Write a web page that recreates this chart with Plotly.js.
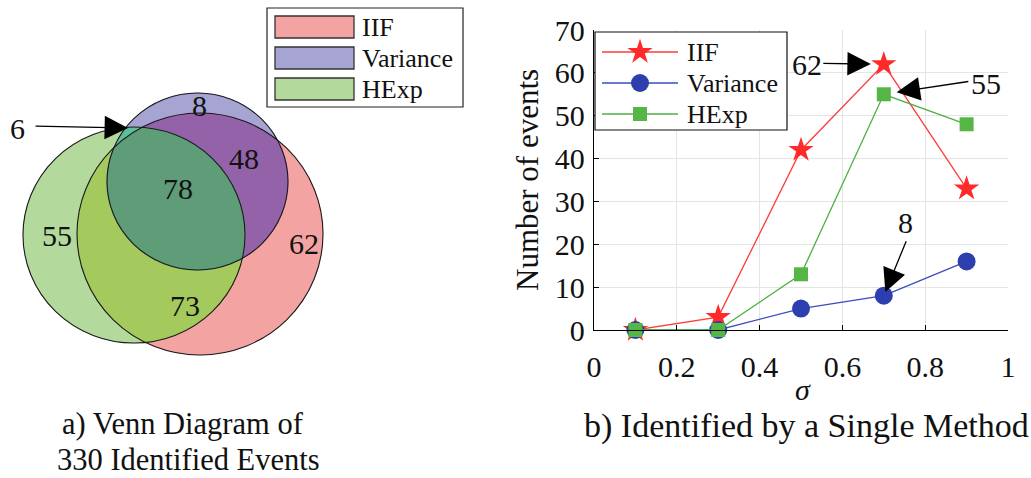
<!DOCTYPE html>
<html>
<head>
<meta charset="utf-8">
<script src="https://cdn.plot.ly/plotly-3.0.1.min.js"></script>
<style>html,body{margin:0;padding:0;background:#fff}#chart{width:1031px;height:478px}</style>
</head>
<body>
<div id="chart"></div>
<script>
// ---- Data: panel b ----
const sigma = [0.1, 0.3, 0.5, 0.7, 0.9];
const iifCounts = [0, 3, 42, 62, 33];
const varianceCounts = [0, 0, 5, 8, 16];
const hexpCounts = [0, 0, 13, 55, 48];
const seriesNames = ['IIF', 'Variance', 'HExp'];
const xTickVals = [0, 0.2, 0.4, 0.6, 0.8, 1];
const yTickVals = [0, 10, 20, 30, 40, 50, 60, 70];

// ---- Data: panel a (Venn region counts) ----
const vennRegions = ['IIF only', 'Variance only', 'HExp only', 'IIF & Variance', 'IIF & HExp', 'Variance & HExp', 'All three'];
const vennCounts = [62, 8, 55, 48, 73, 6, 78];

// ---- Geometry / styling (pixel space) ----
const FONT = "'Liberation Serif', 'Times New Roman', serif";
const ell = {
  IIF:      {cx: 200, cy: 234, rx: 123, ry: 121},
  Variance: {cx: 197.5, cy: 181.5, rx: 90.5, ry: 88.5},
  HExp:     {cx: 134, cy: 235, rx: 111, ry: 108}
};
const vennLabelPos = [[304,243],[199,105],[57,235],[244,158],[185,305],[17,128],[178,188]];
const colSingle = {IIF: '#f4a3a3', Variance: '#a5a4d2', HExp: '#b3d99c'};
const colPair = {IH: '#a4c95d', IV: '#9462a8', VH: '#5bbf9c', all: '#5f9c78'};
const seriesColor = ['#ff2a2a', '#2d3fae', '#55b545'];
const lineColor = ['#ff3b3b', '#3a4cc0', '#4cb040'];
const markerSymbol = ['star', 'circle', 'square'];
const markerSize = [19, 18, 14];

function inside(e, x, y) {
  return ((x - e.cx) / e.rx) ** 2 + ((y - e.cy) / e.ry) ** 2 <= 1 + 1e-9;
}
function regionPoly(members) {
  const pts = [];
  members.forEach((e, i) => {
    for (let k = 0; k < 1440; k++) {
      const t = 2 * Math.PI * k / 1440;
      const x = e.cx + e.rx * Math.cos(t), y = e.cy + e.ry * Math.sin(t);
      if (members.every((f, j) => j === i || inside(f, x, y))) pts.push([x, y]);
    }
  });
  const mx = pts.reduce((s, p) => s + p[0], 0) / pts.length;
  const my = pts.reduce((s, p) => s + p[1], 0) / pts.length;
  pts.sort((a, b) => Math.atan2(a[1] - my, a[0] - mx) - Math.atan2(b[1] - my, b[0] - mx));
  pts.push(pts[0]);
  return {x: pts.map(p => p[0]), y: pts.map(p => p[1])};
}
function fillTrace(poly, color) {
  return {x: poly.x, y: poly.y, xaxis: 'x2', yaxis: 'y2', mode: 'lines', fill: 'toself',
    fillcolor: color, line: {color: color, width: 0.6}, hoverinfo: 'skip', showlegend: false};
}

const traces = [];
const seriesData = [iifCounts, varianceCounts, hexpCounts];
seriesData.forEach((ys, i) => {
  traces.push({x: sigma, y: ys, name: seriesNames[i], mode: 'lines+markers', cliponaxis: false,
    line: {color: lineColor[i], width: 1.3},
    marker: {symbol: markerSymbol[i], size: markerSize[i], color: seriesColor[i]}});
});

traces.push(fillTrace(regionPoly([ell.IIF]), colSingle.IIF));
traces.push(fillTrace(regionPoly([ell.HExp]), colSingle.HExp));
traces.push(fillTrace(regionPoly([ell.Variance]), colSingle.Variance));
traces.push(fillTrace(regionPoly([ell.IIF, ell.HExp]), colPair.IH));
traces.push(fillTrace(regionPoly([ell.IIF, ell.Variance]), colPair.IV));
traces.push(fillTrace(regionPoly([ell.Variance, ell.HExp]), colPair.VH));
traces.push(fillTrace(regionPoly([ell.IIF, ell.Variance, ell.HExp]), colPair.all));

const legRowY = [52, 83, 114];
seriesNames.forEach((n, i) => {
  traces.push({x: [602, 678], y: [legRowY[i], legRowY[i]], xaxis: 'x2', yaxis: 'y2', mode: 'lines',
    line: {color: lineColor[i], width: 1.3}, hoverinfo: 'skip', showlegend: false});
  traces.push({x: [640], y: [legRowY[i]], xaxis: 'x2', yaxis: 'y2', mode: 'markers',
    marker: {symbol: markerSymbol[i], size: markerSize[i], color: seriesColor[i]}, hoverinfo: 'skip', showlegend: false});
});

const shapes = [];
Object.values(ell).forEach(e => {
  shapes.push({type: 'circle', xref: 'x2', yref: 'y2', x0: e.cx - e.rx, x1: e.cx + e.rx,
    y0: e.cy - e.ry, y1: e.cy + e.ry, line: {color: '#1a1a1a', width: 1.1}, layer: 'above'});
});
shapes.push({type: 'rect', xref: 'x2', yref: 'y2', x0: 267, x1: 463, y0: 8, y1: 107,
  line: {color: '#222', width: 1.2}, fillcolor: 'white', layer: 'below'});
const vennLegY = [27, 58, 89];
['IIF', 'Variance', 'HExp'].forEach((n, i) => {
  shapes.push({type: 'rect', xref: 'x2', yref: 'y2', x0: 275, x1: 354, y0: vennLegY[i] - 11, y1: vennLegY[i] + 11,
    line: {color: '#333', width: 1.3}, fillcolor: colSingle[n], layer: 'below'});
});
shapes.push({type: 'rect', xref: 'x2', yref: 'y2', x0: 595, x1: 787, y0: 32, y1: 130,
  line: {color: '#111', width: 1.2}, fillcolor: 'white', layer: 'below'});

const annotations = [];
['IIF', 'Variance', 'HExp'].forEach((n, i) => {
  annotations.push({xref: 'x2', yref: 'y2', x: 360, y: vennLegY[i], text: n, showarrow: false,
    xanchor: 'left', yanchor: 'middle', font: {family: FONT, size: 26, color: '#111'}});
});
seriesNames.forEach((n, i) => {
  annotations.push({xref: 'x2', yref: 'y2', x: 685, y: legRowY[i], text: n, showarrow: false,
    xanchor: 'left', yanchor: 'middle', font: {family: FONT, size: 26, color: '#111'}});
});
vennCounts.forEach((c, i) => {
  annotations.push({xref: 'x2', yref: 'y2', x: vennLabelPos[i][0], y: vennLabelPos[i][1], text: String(c),
    showarrow: false, font: {family: FONT, size: 30, color: '#111'}});
});
const ARW = {showarrow: true, arrowhead: 2, arrowsize: 3.6, arrowwidth: 1.3, arrowcolor: '#000'};
annotations.push(Object.assign({xref: 'x2', yref: 'y2', axref: 'x2', ayref: 'y2', x: 128, y: 128, ax: 34, ay: 126, text: ''}, ARW));

annotations.push(Object.assign({xref: 'x', yref: 'y', x: sigma[3], y: iifCounts[3], ax: -62, ay: -1, text: '', standoff: 13}, ARW));
annotations.push({xref: 'x2', yref: 'y2', x: 807, y: 64, text: String(iifCounts[3]), showarrow: false,
  font: {family: FONT, size: 30, color: '#111'}});
annotations.push(Object.assign({xref: 'x', yref: 'y', x: sigma[3], y: hexpCounts[3], ax: 86, ay: -13, text: '', standoff: 13}, ARW));
annotations.push({xref: 'x2', yref: 'y2', x: 986, y: 83, text: String(hexpCounts[3]), showarrow: false,
  font: {family: FONT, size: 30, color: '#111'}});
annotations.push(Object.assign({xref: 'x', yref: 'y', x: sigma[3], y: varianceCounts[3], ax: 23, ay: -56, text: '', standoff: 4}, ARW));
annotations.push({xref: 'x2', yref: 'y2', x: 905, y: 222, text: String(varianceCounts[3]), showarrow: false,
  font: {family: FONT, size: 30, color: '#111'}});

annotations.push({xref: 'x2', yref: 'y2', x: 527, y: 180, text: 'Number of events', textangle: -90,
  showarrow: false, font: {family: FONT, size: 31, color: '#111'}});
annotations.push({xref: 'x2', yref: 'y2', x: 803, y: 389, text: '<i>σ</i>', showarrow: false,
  font: {family: FONT, size: 30, color: '#111'}});

annotations.push({xref: 'x2', yref: 'y2', x: 183, y: 442, yanchor: 'bottom', borderpad: 0, text: 'a) Venn Diagram of', showarrow: false,
  font: {family: FONT, size: 30.5, color: '#111'}});
annotations.push({xref: 'x2', yref: 'y2', x: 188, y: 442, yanchor: 'top', borderpad: 0, text: '330 Identified Events', showarrow: false,
  font: {family: FONT, size: 30.5, color: '#111'}});
annotations.push({xref: 'x2', yref: 'y2', x: 806, y: 426, text: 'b) Identified by a Single Method', showarrow: false,
  font: {family: FONT, size: 34, color: '#111'}});

const layout = {
  width: 1031, height: 478, margin: {l: 0, r: 0, t: 0, b: 0},
  font: {family: FONT},
  paper_bgcolor: '#ffffff', plot_bgcolor: 'rgba(0,0,0,0)', showlegend: false,
  xaxis: {domain: [594 / 1031, 1008 / 1031], range: [0, 1], tickvals: xTickVals, automargin: false,
    showgrid: true, gridcolor: '#e4e4e4', gridwidth: 1, zeroline: false,
    showline: true, linecolor: '#000', linewidth: 1.2, ticks: 'inside', ticklen: 5, tickcolor: '#000',
    ticklabelstandoff: 10, tickfont: {family: FONT, size: 30, color: '#111'}},
  yaxis: {domain: [148 / 478, 448 / 478], range: [0, 70], tickvals: yTickVals, automargin: false,
    showgrid: true, gridcolor: '#e4e4e4', gridwidth: 1, zeroline: false,
    showline: true, linecolor: '#000', linewidth: 1.2, ticks: 'inside', ticklen: 5, tickcolor: '#000',
    ticklabelstandoff: 2, tickfont: {family: FONT, size: 30, color: '#111'}},
  xaxis2: {domain: [0, 1], range: [0, 1031], visible: false, fixedrange: true, anchor: 'y2'},
  yaxis2: {domain: [0, 1], range: [478, 0], visible: false, fixedrange: true, anchor: 'x2'},
  shapes: shapes, annotations: annotations
};

Plotly.newPlot('chart', traces, layout, {staticPlot: true, displayModeBar: false});
</script>
</body>
</html>
